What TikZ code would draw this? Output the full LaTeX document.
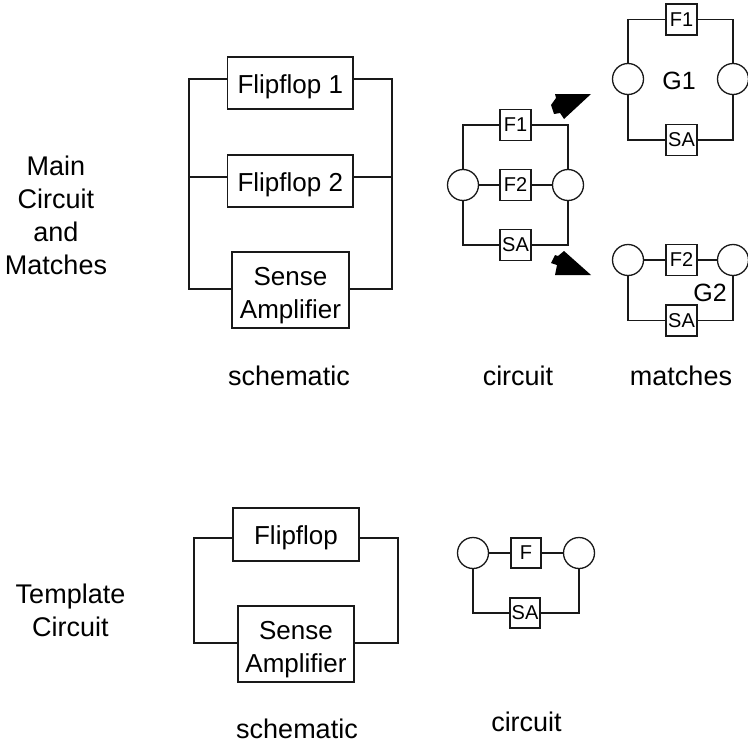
\documentclass[tikz,border=0pt]{standalone}
\usepackage{fontspec}
\setmainfont{Liberation Sans}
\newcommand{\firstline}{\rule{0pt}{28.9pt}}
\begin{document}
\begin{tikzpicture}[x=1pt,y=-1pt,
  wire/.style={draw=black!90,line width=1.3pt,line join=miter},
  bigbox/.style={draw=black!90,line width=1.3pt,fill=white,inner sep=0pt,align=center,font=\fontsize{26}{33}\selectfont},
  onerow/.style={text height=26pt,text depth=5.5pt},
  smallbox/.style={draw=black!90,line width=1.3pt,fill=white,inner sep=0pt,minimum width=31pt,minimum height=31pt,font=\fontsize{20}{24}\selectfont},
  junction/.style={circle,draw=black!90,line width=1.3pt,fill=white,inner sep=0pt,minimum size=31pt},
  lbl/.style={inner sep=0pt,align=center,font=\fontsize{27}{33}\selectfont},
  glabel/.style={inner sep=0pt,font=\fontsize{25}{28}\selectfont},
  fatarrow/.style={fill=black,draw=none}]
\useasboundingbox (0,0) rectangle (748,744);
\fill[white] (0,0) rectangle (748,744);

% Side labels
\node[lbl] (mainlbl) at (56,215) {Main\\Circuit\\and\\Matches};
\node[lbl] (templbl) at (70.5,610) {Template\\Circuit};

% Main schematic
\node[bigbox,onerow,minimum width=125.5pt,minimum height=52pt] (ffa) at (290.25,83) {Flipflop 1};
\node[bigbox,onerow,minimum width=125.5pt,minimum height=52pt] (ffb) at (290.25,181) {Flipflop 2};
\node[bigbox,minimum width=117pt,minimum height=76pt] (sam) at (290.5,290) {\firstline Sense\\Amplifier};
\coordinate (la) at (189,79); \coordinate (lb) at (189,177); \coordinate (lc) at (189,289);
\coordinate (ra) at (392,79); \coordinate (rb) at (392,177); \coordinate (rc) at (392,289);
\draw[wire] (ffa.west |- la) -- (la) -- (lc) -- (sam.west |- lc);
\draw[wire] (ffa.east |- ra) -- (ra) -- (rc) -- (sam.east |- rc);
\draw[wire] (ffb.west |- lb) -- (lb);
\draw[wire] (ffb.east |- rb) -- (rb);
\node[lbl,anchor=base] (schm) at (289,385) {schematic};

% Main circuit
\node[smallbox] (cf1) at (515.5,125) {F1};
\node[smallbox] (cf2) at (515.5,185) {F2};
\node[smallbox] (csa) at (515.5,245) {SA};
\node[junction] (cl) at (463,185) {};
\node[junction] (cr) at (568,185) {};
\draw[wire] (cl.north) |- (cf1.west);
\draw[wire] (cf1.east) -| (cr.north);
\draw[wire] (cl.south) |- (csa.west);
\draw[wire] (csa.east) -| (cr.south);
\draw[wire] (cl.east) -- (cf2.west);
\draw[wire] (cf2.east) -- (cr.west);
\node[lbl,anchor=base] (cirm) at (518,385) {circuit};

% Arrows
\fill[fatarrow] (591,94) -- (555,94) -- (556,98) -- (551,105) -- (554,114) -- (560,113) -- (564,119) -- cycle;
\fill[fatarrow] (591,275) -- (555,275) -- (557,265) -- (551,263) -- (555,255) -- (558,256) -- (564,251) -- cycle;

% Match G1
\node[smallbox] (af) at (681.5,19.5) {F1};
\node[smallbox] (as) at (681.5,140) {SA};
\node[junction] (al) at (628,79) {};
\node[junction] (ar) at (733,79) {};
\draw[wire] (al.north) |- (af.west);
\draw[wire] (af.east) -| (ar.north);
\draw[wire] (al.south) |- (as.west);
\draw[wire] (as.east) -| (ar.south);
\node[glabel] (gone) at (679,81) {G1};

% Match G2
\node[smallbox] (bf) at (681.5,260) {F2};
\node[smallbox] (bs) at (681.5,320.5) {SA};
\node[junction] (bl) at (628,260) {};
\node[junction] (br) at (733,260) {};
\draw[wire] (bl.east) -- (bf.west);
\draw[wire] (bf.east) -- (br.west);
\draw[wire] (bl.south) |- (bs.west);
\draw[wire] (bs.east) -| (br.south);
\node[glabel] (gtwo) at (710,293) {G2};
\node[lbl,anchor=base] (mat) at (681,385) {matches};

% Template schematic
\node[bigbox,onerow,minimum width=126pt,minimum height=53pt] (fft) at (296,534.5) {Flipflop};
\node[bigbox,minimum width=116pt,minimum height=76pt] (sat) at (296,644) {\firstline Sense\\Amplifier};
\coordinate (tla) at (194,538); \coordinate (tlb) at (194,643);
\coordinate (tra) at (398,538); \coordinate (trb) at (398,643);
\draw[wire] (fft.west |- tla) -- (tla) -- (tlb) -- (sat.west |- tlb);
\draw[wire] (fft.east |- tra) -- (tra) -- (trb) -- (sat.east |- trb);
\node[lbl,anchor=base] (scht) at (297,738) {schematic};

% Template circuit
\node[smallbox,minimum width=30pt,minimum height=30pt] (tf) at (526,553) {F};
\node[smallbox,minimum width=30pt,minimum height=30pt] (ts) at (525,613) {SA};
\node[junction] (tl) at (473,553) {};
\node[junction] (tr) at (579,553) {};
\draw[wire] (tl.east) -- (tf.west);
\draw[wire] (tf.east) -- (tr.west);
\draw[wire] (tl.south) |- (ts.west);
\draw[wire] (ts.east) -| (tr.south);
\node[lbl,anchor=base] (cirt) at (526.5,731) {circuit};
\end{tikzpicture}
\end{document}
